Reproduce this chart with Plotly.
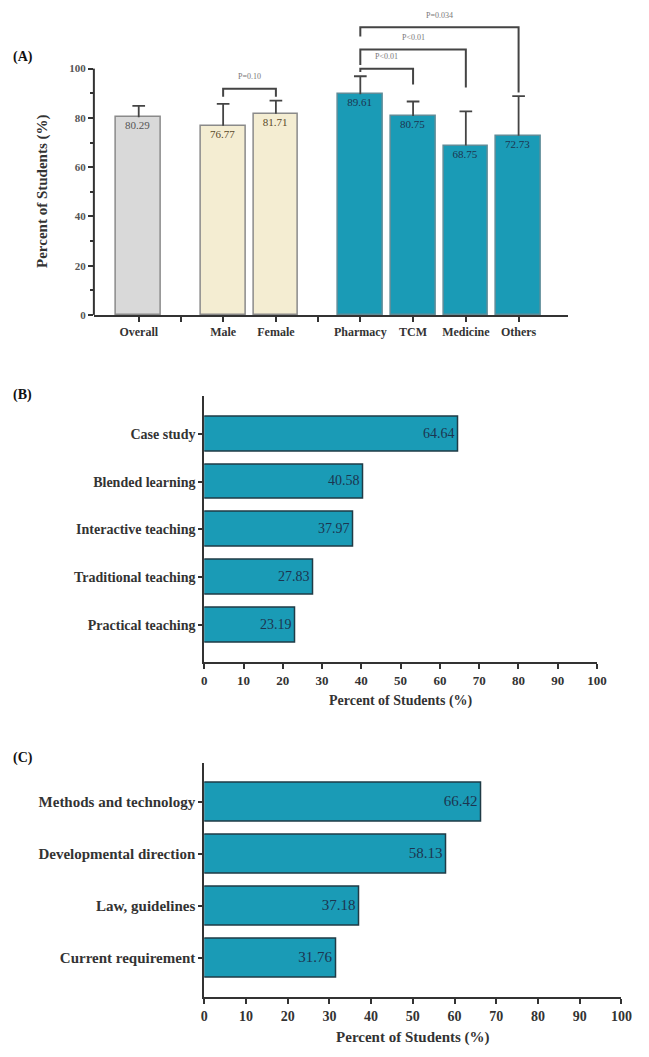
import plotly.graph_objects as go

# Panel A data
a_labels = ["Overall", "Male", "Female", "Pharmacy", "TCM", "Medicine", "Others"]
a_values = [80.29, 76.77, 81.71, 89.61, 80.75, 68.75, 72.73]
a_err_up = [4.6, 8.9, 5.3, 7.3, 5.9, 13.9, 16.1]
a_group = [0, 1, 1, 2, 2, 2, 2]

# significance comparisons (left, right, text)
comparisons = [("Male", "Female", "P=0.10"),
               ("Pharmacy", "TCM", "P<0.01"),
               ("Pharmacy", "Medicine", "P<0.01"),
               ("Pharmacy", "Others", "P=0.034")]

# Panel B data
b_labels = ["Case study", "Blended learning", "Interactive teaching",
            "Traditional teaching", "Practical teaching"]
b_values = [64.64, 40.58, 37.97, 27.83, 23.19]

# Panel C data
c_labels = ["Methods and technology", "Developmental direction",
            "Law, guidelines", "Current requirement"]
c_values = [66.42, 58.13, 37.18, 31.76]

W, H = 649, 1057
FONT = "Liberation Serif"
TEAL = "#1a9bb6"
DARK = "#333333"


def px_x(p):
    return p / W


def px_y(p):
    return 1 - p / H


# x positions in panel A: 1 unit inside a group, 1.6 between groups
a_pos = []
for i, g in enumerate(a_group):
    if i == 0:
        a_pos.append(0.0)
    else:
        a_pos.append(a_pos[-1] + (1.6 if g != a_group[i - 1] else 1.0))
gap_ticks = [(a_pos[i - 1] + a_pos[i]) / 2 for i in range(1, len(a_pos))
             if a_group[i] != a_group[i - 1]]
pos_of = dict(zip(a_labels, a_pos))

fill = {0: "#d9d9d9", 1: "#f4edd2", 2: TEAL}
edge = {0: "#8a8a8a", 1: "#8a8a8a", 2: "#5f8c98"}
txtc = {0: "#555555", 1: "#5a4a2a", 2: "#1c3550"}

fig = go.Figure()

fig.add_trace(go.Bar(
    x=a_pos, y=a_values, width=0.85,
    marker_color=[fill[g] for g in a_group],
    marker_line_color=[edge[g] for g in a_group],
    marker_line_width=1.5,
    text=[f"{v:.2f}" for v in a_values],
    textposition="inside", insidetextanchor="end", textangle=0,
    textfont=dict(family=FONT, size=11, color=[txtc[g] for g in a_group]),
    xaxis="x", yaxis="y", showlegend=False,
))

# upper-only error bars with caps
cap = 0.12
ex, ey = [], []
for x, v, e in zip(a_pos, a_values, a_err_up):
    ex += [x, x, None, x - cap, x + cap, None]
    ey += [v, v + e, None, v + e, v + e, None]
fig.add_trace(go.Scatter(
    x=ex, y=ey, mode="lines", line=dict(color="#444444", width=1.8),
    xaxis="x", yaxis="y", showlegend=False, hoverinfo="skip",
))

fig.add_trace(go.Bar(
    x=b_values, y=b_labels, orientation="h", width=0.73,
    marker_color=TEAL, marker_line_color="#1f3b46", marker_line_width=1.5,
    text=[f"{v:.2f}" for v in b_values],
    textposition="inside", insidetextanchor="end", textangle=0,
    textfont=dict(family=FONT, size=14, color="#1c3550"),
    xaxis="x2", yaxis="y2", showlegend=False,
))

fig.add_trace(go.Bar(
    x=c_values, y=c_labels, orientation="h", width=0.75,
    marker_color=TEAL, marker_line_color="#1f3b46", marker_line_width=1.5,
    text=[f"{v:.2f}" for v in c_values],
    textposition="inside", insidetextanchor="end", textangle=0,
    textfont=dict(family=FONT, size=15, color="#1c3550"),
    xaxis="x3", yaxis="y3", showlegend=False,
))

tick_font = dict(family=FONT, size=11, color=DARK, weight="bold")

# brackets for panel A
bracket_y = [91.8, 100.0, 107.8, 116.8]
left_end = [88.6, 98.6, 101.5, 113.0]
right_end = [88.6, 93.6, 92.3, 90.3]
shapes = []
annotations = []
for k, (l, r, t) in enumerate(comparisons):
    x1, x2 = pos_of[l], pos_of[r]
    yb = bracket_y[k]
    shapes.append(dict(
        type="path", xref="x", yref="y",
        path=f"M {x1},{left_end[k]} L {x1},{yb} L {x2},{yb} L {x2},{right_end[k]}",
        line=dict(color="#444444", width=2)))
    annotations.append(dict(
        x=(x1 + x2) / 2, y=yb + 4.8,
        xref="x", yref="y", text=t, showarrow=False,
        font=dict(family=FONT, size=8, color="#777777")))

# y axis line for panel A (only 0-100)
shapes.append(dict(type="line", xref="paper", yref="y",
                   x0=px_x(92), x1=px_x(92), y0=0, y1=100,
                   line=dict(color=DARK, width=2)))

annotations.append(dict(
    x=px_x(40), y=px_y(193), xref="paper", yref="paper",
    xanchor="center", yanchor="middle",
    text="Percent of Students (%)", textangle=-90, showarrow=False,
    font=dict(family=FONT, size=15, color=DARK, weight="bold")))

for lab, yy in [("(A)", 57), ("(B)", 397), ("(C)", 762)]:
    annotations.append(dict(
        x=px_x(7), y=px_y(yy), xref="paper", yref="paper",
        xanchor="left", yanchor="middle", text=lab, showarrow=False,
        font=dict(family=FONT, size=14, color="#111111", weight="bold")))

fig.update_layout(
    width=W, height=H,
    margin=dict(l=0, r=0, t=0, b=0),
    paper_bgcolor="white", plot_bgcolor="white",
    font=dict(family=FONT, color=DARK),
    bargap=0,
    xaxis=dict(domain=[px_x(92), px_x(577)], anchor="y",
               range=[-0.85, 8.13],
               tickvals=a_pos + gap_ticks,
               ticktext=a_labels + [""] * len(gap_ticks),
               ticks="outside", ticklen=5, tickwidth=2, tickcolor=DARK,
               showline=True, linewidth=2, linecolor=DARK,
               showgrid=False, zeroline=False, tickfont=dict(tick_font, size=12)),
    yaxis=dict(domain=[px_y(316.7), px_y(7.1)], anchor="x",
               range=[0, 125],
               tickvals=[0, 20, 40, 60, 80, 100],
               ticks="outside", ticklen=5, tickwidth=2, tickcolor=DARK,
               minor=dict(tickvals=[10, 30, 50, 70, 90], ticks="outside",
                          ticklen=3, tickwidth=2, tickcolor=DARK),
               showline=False, showgrid=False, zeroline=False,
               tickfont=dict(tick_font, size=11, color="#555555")),
    xaxis2=dict(domain=[px_x(205), px_x(607)], anchor="y2",
                range=[0, 100], tickvals=list(range(0, 101, 10)),
                ticks="outside", ticklen=5, tickwidth=1.5, tickcolor=DARK,
                showline=True, linewidth=2, linecolor=DARK,
                showgrid=False, zeroline=False, tickfont=dict(tick_font, size=13),
                title=dict(text="Percent of Students (%)", standoff=8,
                           font=dict(family=FONT, size=14, color=DARK, weight="bold"))),
    yaxis2=dict(domain=[px_y(666), px_y(398)], anchor="x2",
                type="category", categoryorder="array", categoryarray=b_labels,
                range=[4.78, -0.8],
                ticks="outside", ticklen=4, tickwidth=1.5, tickcolor=DARK,
                showline=True, linewidth=2, linecolor=DARK,
                showgrid=False, zeroline=False, tickfont=dict(tick_font, size=14)),
    xaxis3=dict(domain=[px_x(205), px_x(632)], anchor="y3",
                range=[0, 100], tickvals=list(range(0, 101, 10)),
                ticks="outside", ticklen=5, tickwidth=1.5, tickcolor=DARK,
                showline=True, linewidth=2, linecolor=DARK,
                showgrid=False, zeroline=False, tickfont=dict(tick_font, size=14),
                title=dict(text="Percent of Students (%)", standoff=8,
                           font=dict(family=FONT, size=15, color=DARK, weight="bold"))),
    yaxis3=dict(domain=[px_y(1003), px_y(767)], anchor="x3",
                type="category", categoryorder="array", categoryarray=c_labels,
                range=[3.76, -0.76],
                ticks="outside", ticklen=4, tickwidth=1.5, tickcolor=DARK,
                showline=True, linewidth=2, linecolor=DARK,
                showgrid=False, zeroline=False, tickfont=dict(tick_font, size=15)),
    shapes=shapes,
    annotations=annotations,
)

# drop the browser's default 8px body margin so the figure sits at (0, 0)
fig.write_html("out.html", config={"displayModeBar": False},
               post_script="document.body.style.margin='0px';")
